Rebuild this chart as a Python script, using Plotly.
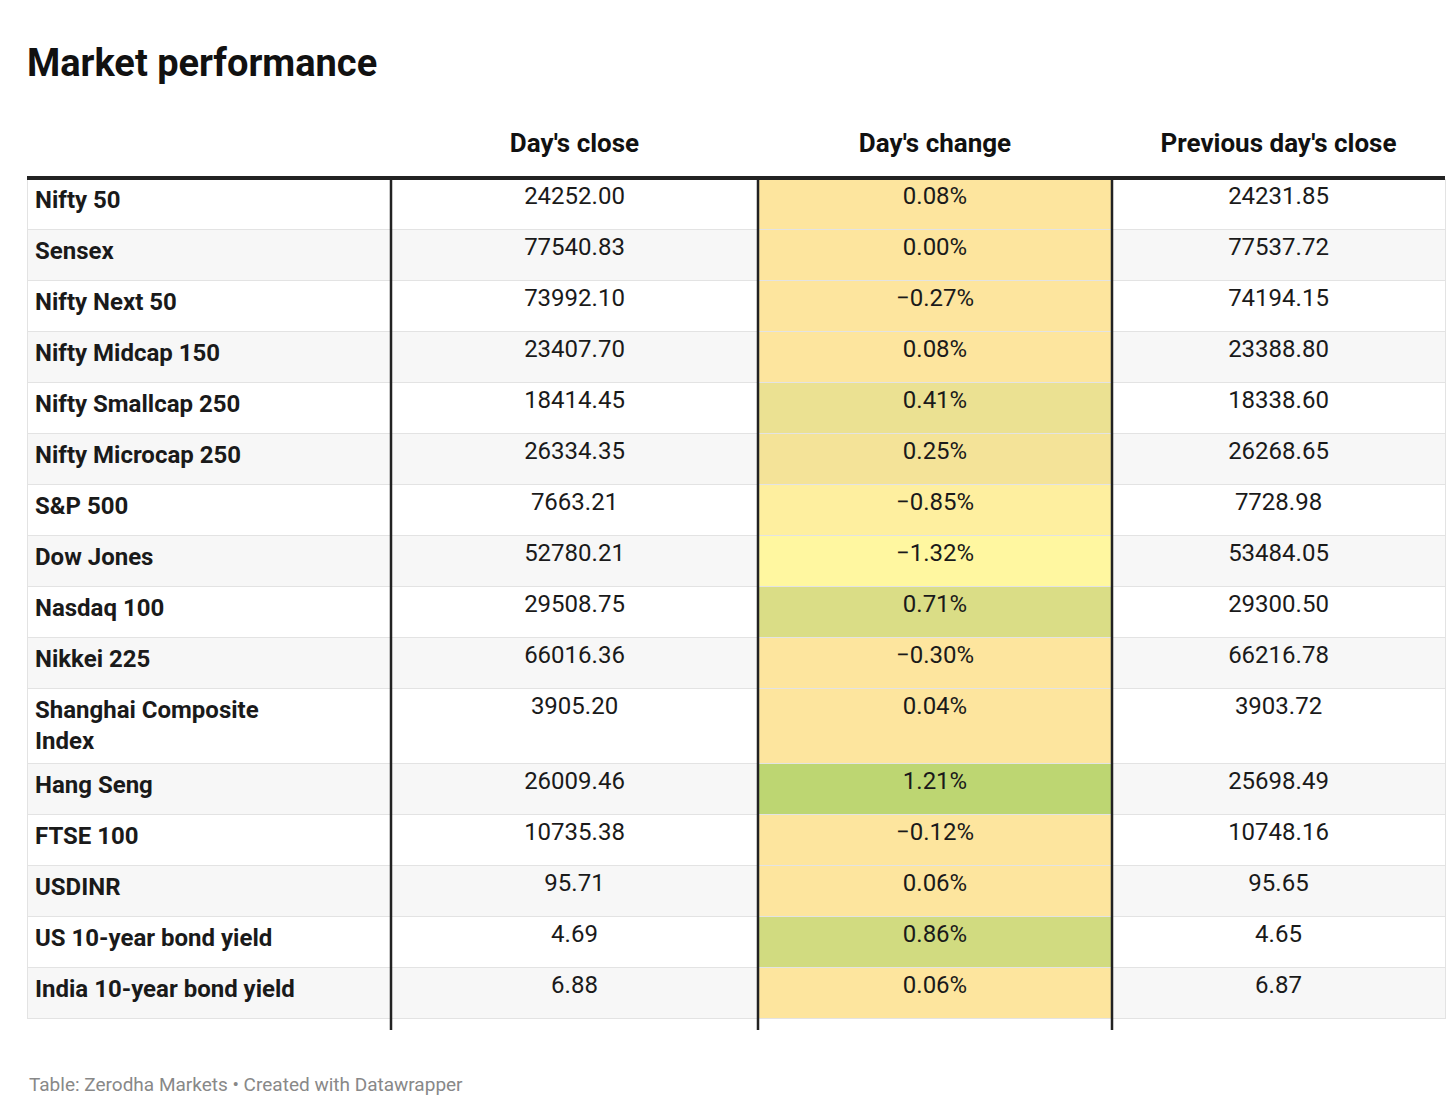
import plotly.graph_objects as go

names = ["Nifty 50", "Sensex", "Nifty Next 50", "Nifty Midcap 150", "Nifty Smallcap 250",
         "Nifty Microcap 250", "S&P 500", "Dow Jones", "Nasdaq 100", "Nikkei 225",
         "Shanghai Composite<br>Index", "Hang Seng", "FTSE 100", "USDINR",
         "US 10-year bond yield", "India 10-year bond yield"]
day_close = ["24252.00", "77540.83", "73992.10", "23407.70", "18414.45", "26334.35", "7663.21",
             "52780.21", "29508.75", "66016.36", "3905.20", "26009.46", "10735.38", "95.71",
             "4.69", "6.88"]
day_change = [0.08, 0.00, -0.27, 0.08, 0.41, 0.25, -0.85, -1.32, 0.71, -0.30, 0.04, 1.21,
              -0.12, 0.06, 0.86, 0.06]
prev_close = ["24231.85", "77537.72", "74194.15", "23388.80", "18338.60", "26268.65", "7728.98",
              "53484.05", "29300.50", "66216.78", "3903.72", "25698.49", "10748.16", "95.65",
              "4.65", "6.87"]
headers = ["", "Day's close", "Day's change", "Previous day's close"]

stops = [(-1.32, (255, 247, 160)), (-0.3, (253, 229, 158)), (0.1, (253, 229, 158)),
         (1.21, (189, 214, 114))]


def scale(v):
    for (a, ca), (b, cb) in zip(stops, stops[1:]):
        if a <= v <= b:
            t = (v - a) / (b - a) if b > a else 0
            c = [round(x + (y - x) * t) for x, y in zip(ca, cb)]
            return "rgb(%d,%d,%d)" % tuple(c)
    return "rgb(253,229,158)"


row_fill = ["#ffffff" if i % 2 == 0 else "#f7f7f7" for i in range(len(names))]
chg_fill = [scale(v) for v in day_change]
chg_text = [("\u2212%.2f%%" % -v) if v < 0 else "%.2f%%" % v for v in day_change]

fig = go.Figure(go.Table(
    columnwidth=[364, 367, 354, 333],
    header=dict(values=["<b>%s</b>" % h for h in headers],
                fill_color="white", line_color="white", height=58,
                align=["left", "center", "center", "center"],
                font=dict(family="Roboto", size=26, color="#111")),
    cells=dict(values=[["<b>%s</b>" % n for n in names], day_close, chg_text, prev_close],
               fill_color=[row_fill, row_fill, chg_fill, row_fill],
               line=dict(color="#e3e3e3", width=1), height=51,
               align=["left", "center", "center", "center"],
               font=dict(family="Roboto", size=24, color="#1a1a1a")),
    domain=dict(x=[0, 1], y=[0, 1]),
))

for xp in [364 / 1418, 731 / 1418, 1085 / 1418]:
    fig.add_shape(type="line", xref="paper", yref="paper", x0=xp, x1=xp, y0=0, y1=(910 - 58) / 910,
                  line=dict(color="#222", width=2.5))
fig.add_shape(type="line", xref="paper", yref="paper", x0=0, x1=1, y0=(910 - 58) / 910,
              y1=(910 - 58) / 910, line=dict(color="#222", width=4))

fig.update_layout(
    width=1456, height=1101,
    margin=dict(l=19, r=19, t=112, b=79),
    paper_bgcolor="white", plot_bgcolor="white",
    title=dict(text="<b>Market performance</b>", x=0.013, y=0.962, xanchor="left",
               font=dict(family="Roboto", size=38, color="#111")),
    annotations=[dict(text="Table: Zerodha Markets \u2022 Created with Datawrapper",
                      xref="paper", yref="paper", x=0, y=-0.045, xanchor="left", yanchor="top",
                      showarrow=False, font=dict(family="Roboto", size=19, color="#888"))],
)
fig.write_html("out.html")
